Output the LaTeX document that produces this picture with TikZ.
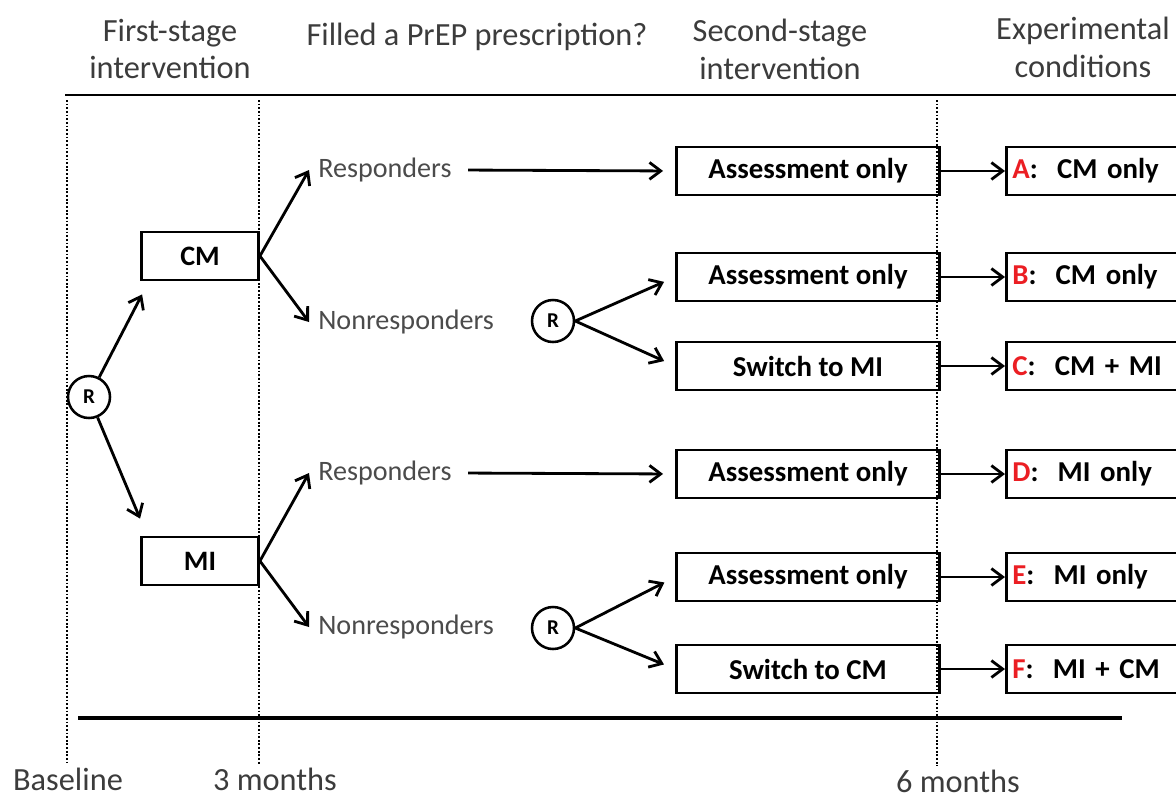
\documentclass[tikz,border=0pt]{standalone}
\usepackage{fontspec}
\setmainfont{Carlito}
\usetikzlibrary{positioning,arrows.meta}
\definecolor{labelred}{RGB}{235,30,35}
\definecolor{headgray}{RGB}{60,60,60}
\definecolor{respgray}{RGB}{75,75,75}
\tikzset{
  header/.style={align=center, text=headgray, font=\fontsize{23}{27}\selectfont},
  timelabel/.style={text=headgray, inner sep=1pt, font=\fontsize{23}{27}\selectfont},
  resp/.style={text=respgray, inner xsep=0.225cm, font=\fontsize{20}{24}\selectfont},
  armbox/.style={draw, line width=2pt, minimum width=2.925cm, minimum height=1.2cm, font=\fontsize{20}{24}\selectfont\bfseries},
  stagebox/.style={draw, line width=2pt, minimum width=6.575cm, minimum height=1.2cm, font=\fontsize{20.5}{24}\selectfont\bfseries},
  condbox/.style={draw, line width=2pt, anchor=west, minimum height=1.2cm, text width=4.4cm, align=left, inner xsep=0.15cm, font=\fontsize{20.5}{24}\selectfont\bfseries},
  rnode/.style={draw, circle, line width=1.8pt, minimum size=1.05cm, inner sep=0pt, font=\fontsize{15}{17}\selectfont\bfseries},
  arr/.style={-{Straight Barb[length=8pt,width=12pt]}, line width=2pt},
  dotline/.style={line width=1.8pt, dash pattern=on 1.3pt off 1.3pt},
  rule/.style={line width=1.3pt}
}

\begin{document}
\begin{tikzpicture}[x=0.025cm, y=-0.025cm]
\useasboundingbox (0,0) rectangle (1176,798);
\clip (0,0) rectangle (1176,798);

% column headers
\node[header] (h1) at (170,49) {First-stage\\intervention};
\node[header] (h2) at (477,37) {Filled a PrEP prescription?};
\node[header] (h3) at (780,49) {Second-stage\\intervention};
\node[header] (h4) at (1083,47) {Experimental\\conditions};
\draw[rule] (65,95) -- (1176,95);

% time axis
\foreach \x/\yend in {67/762, 259/765, 937/766}
  \draw[dotline] (\x,100) -- (\x,\yend);
\draw[line width=2.6pt] (78,718) -- (1122,718);
\node[timelabel] (t0) at (68,779) {Baseline};
\node[timelabel] (t3) at (275,779) {3 months};
\node[timelabel] (t6) at (958,781) {6 months};

% first stage
\node[rnode] (r0) at (89,397) {R};
\node[armbox] (cm) at (200,256) {CM};
\node[armbox] (mi) at (200,561) {MI};
\draw[arr] (r0) -- ([shift={(2,13)}]cm.south west);
\draw[arr] (r0) -- ([shift={(0,-17)}]mi.north west);

\node[resp, anchor=west] (resp1) at (309,170) {Responders};
\node[resp, anchor=west] (nonr1) at (309,322) {Nonresponders};
\node[resp, anchor=west] (resp2) at (309,473) {Responders};
\node[resp, anchor=west] (nonr2) at (309,627) {Nonresponders};
\draw[arr] (cm.east) -- (resp1.west);
\draw[arr] (cm.east) -- (nonr1.west);
\draw[arr] (mi.east) -- (resp2.west);
\draw[arr] (mi.east) -- (nonr2.west);
\node[rnode] (r1) at (553,321) {R};
\node[rnode] (r2) at (553,628) {R};

% second stage and conditions
\foreach \i/\stage/\lab/\cond/\y in {1/Assessment only/A/CM only/171, 2/Assessment only/B/CM only/277,
    3/Switch to MI/C/CM + MI/366, 4/Assessment only/D/MI only/474,
    5/Assessment only/E/MI only/577, 6/Switch to CM/F/MI + CM/669} {
  \node[stagebox] (s\i) at (808,\y) {\stage};
  \node[condbox] (c\i) at (1005,\y) {\textcolor{labelred}{\lab}:\ \ \cond};
  \draw[arr] (s\i.east) -- (c\i.west);
}
\draw[arr, shorten <=0.18cm, shorten >=0.3cm] (resp1.east) -- (s1.west);
\draw[arr, shorten <=0.18cm, shorten >=0.3cm] (resp2.east) -- (s4.west);
\draw[arr, shorten >=0.3cm] (r1.east) -- (s2.west);
\draw[arr, shorten >=0.3cm] (r1.east) -- (s3.west);
\draw[arr, shorten >=0.3cm] (r2.east) -- (s5.west);
\draw[arr, shorten >=0.3cm] (r2.east) -- (s6.west);
\end{tikzpicture}
\end{document}
